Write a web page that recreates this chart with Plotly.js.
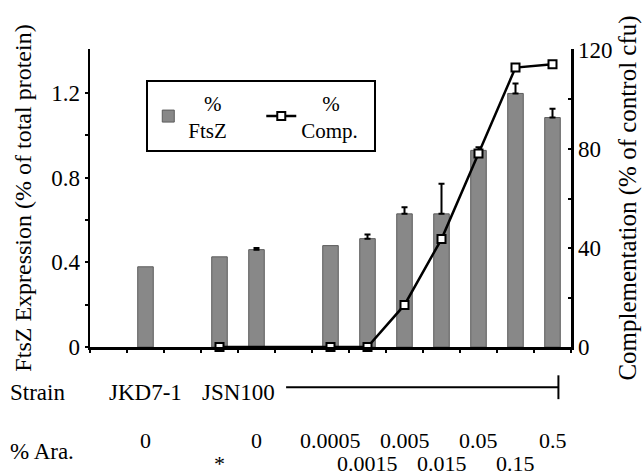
<!DOCTYPE html>
<html>
<head>
<meta charset="utf-8">
<script src="https://cdn.plot.ly/plotly-3.0.1.min.js"></script>
<style>html,body{margin:0;padding:0;background:#fff;}#chart{width:642px;height:476px;}</style>
</head>
<body>
<div id="chart"></div>
<script>
// Category slots along the x axis (empty slots are spacers)
const categories = ["s0", "JKD7-1 0", "s2", "JSN100 *", "JSN100 0", "s5", "0.0005", "0.0015", "0.005", "0.015", "0.05", "0.15", "0.5"];
// FtsZ expression (% of total protein)
const ftszValues = [null, 0.379, null, 0.426, 0.460, null, 0.479, 0.512, 0.629, 0.629, 0.929, 1.198, 1.084];
const ftszErrors = [NaN, NaN, NaN, NaN, 0.008, NaN, NaN, 0.019, 0.031, 0.142, 0.015, 0.047, 0.042];
// Complementation (% of control cfu)
const compValues = [null, null, null, 0, null, null, 0, 0, 17, 43.6, 78.2, 112.9, 114.2];
// Labels under the axis
const araLabels = ["", "0", "", "*", "0", "", "0.0005", "0.0015", "0.005", "0.015", "0.05", "0.15", "0.5"];
const araLowerRow = [false, false, false, true, false, false, false, true, false, true, false, true, false];
const strainLabels = ["JKD7-1", "JSN100"];
const strainPositions = [1, 3.5];
const leftTickVals = [0, 0.2, 0.4, 0.6, 0.8, 1.0, 1.2];
const leftTickText = ["0", "", "0.4", "", "0.8", "", "1.2"];
const rightTickVals = [0, 20, 40, 60, 80, 100, 120];
const rightTickText = ["0", "", "40", "", "80", "", "120"];

const FONT = "'Liberation Serif', 'DejaVu Serif', serif";

const traces = [
  {
    type: "bar",
    name: "&nbsp;&nbsp;&nbsp;%<br>FtsZ",
    x: categories,
    y: ftszValues,
    width: 0.42,
    marker: { color: "#888888", line: { color: "#5c5c5c", width: 1 } },
    error_y: { type: "data", array: ftszErrors, arrayminus: ftszErrors.map(() => NaN), symmetric: false, color: "#000", thickness: 2, width: 3 },
    yaxis: "y"
  },
  {
    type: "scatter",
    mode: "lines+markers",
    name: "&nbsp;&nbsp;&nbsp;&nbsp;%<br>Comp.",
    x: categories,
    y: compValues,
    connectgaps: true,
    line: { color: "#000", width: 2.5 },
    marker: { symbol: "square", size: 8, color: "#fff", line: { color: "#000", width: 2 } },
    yaxis: "y2",
    cliponaxis: false
  }
];

const annotations = [];
categories.forEach((c, i) => {
  if (araLabels[i]) {
    annotations.push({
      x: i, xref: "x", y: araLowerRow[i] ? -0.39 : -0.315, yref: "paper",
      text: araLabels[i], showarrow: false, xanchor: "center", yanchor: "middle",
      font: { family: FONT, size: 22, color: "#000" }
    });
  }
});
strainLabels.forEach((s, i) => {
  annotations.push({
    x: strainPositions[i], xref: "x", y: -0.153, yref: "paper",
    text: s, showarrow: false, xanchor: "center", yanchor: "middle",
    font: { family: FONT, size: 23, color: "#000" }
  });
});
annotations.push({ x: -0.17, xref: "paper", y: -0.153, yref: "paper", text: "Strain", showarrow: false, xanchor: "left", yanchor: "middle", font: { family: FONT, size: 23, color: "#000" } });
annotations.push({ x: -0.17, xref: "paper", y: -0.352, yref: "paper", text: "% Ara.", showarrow: false, xanchor: "left", yanchor: "middle", font: { family: FONT, size: 23, color: "#000" } });

const layout = {
  width: 642, height: 476,
  margin: { l: 90, r: 71, t: 49, b: 129 },
  paper_bgcolor: "#fff", plot_bgcolor: "#fff",
  font: { family: FONT, size: 22, color: "#000" },
  showlegend: true,
  legend: {
    orientation: "h", x: 0.117, y: 0.895, xanchor: "left", yanchor: "top",
    bordercolor: "#000", borderwidth: 2, bgcolor: "#fff",
    font: { family: FONT, size: 21, color: "#000" },
    entrywidth: 68, itemwidth: 30, valign: "middle"
  },
  xaxis: {
    type: "category", categoryorder: "array", categoryarray: categories,
    range: [-0.5, 12.5],
    showticklabels: false, tickson: "boundaries", ticks: "outside", ticklen: 3, tickwidth: 2, tickcolor: "#000",
    showline: true, linecolor: "#000", linewidth: 2.5, showgrid: false, zeroline: false, fixedrange: true
  },
  yaxis: {
    range: [0, 1.408], tickvals: leftTickVals, ticktext: leftTickText,
    ticks: "outside", ticklen: 3, tickwidth: 2, tickcolor: "#000",
    showline: true, linecolor: "#000", linewidth: 2.5, showgrid: false, zeroline: false,
    tickfont: { family: FONT, size: 23 },
    title: { text: "FtsZ Expression (% of total protein)", font: { family: FONT, size: 24 }, standoff: 13 }
  },
  yaxis2: {
    overlaying: "y", side: "right", range: [0, 120.4], tickvals: rightTickVals, ticktext: rightTickText,
    ticks: "inside", ticklen: 3, tickwidth: 2, tickcolor: "#000",
    showline: true, linecolor: "#000", linewidth: 2.5, showgrid: false, zeroline: false,
    tickfont: { family: FONT, size: 23 },
    title: { text: "Complementation (% of control cfu)", font: { family: FONT, size: 25 }, standoff: 16 }
  },
  shapes: [
    { type: "line", xref: "x", yref: "paper", x0: 4.8, x1: 12.16, y0: -0.135, y1: -0.135, line: { color: "#000", width: 2 } },
    { type: "line", xref: "x", yref: "paper", x0: 12.16, x1: 12.16, y0: -0.095, y1: -0.175, line: { color: "#000", width: 2 } }
  ],
  annotations: annotations
};

Plotly.newPlot("chart", traces, layout, { displayModeBar: false, staticPlot: true });
</script>
</body>
</html>
